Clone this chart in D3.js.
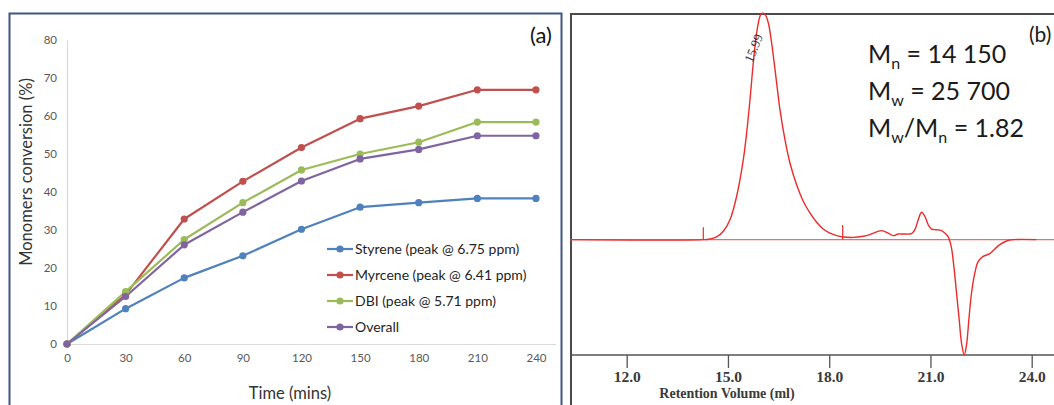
<!DOCTYPE html>
<html><head><meta charset="utf-8">
<script src="https://cdn.jsdelivr.net/npm/d3@7"></script>
<style>body{margin:0;background:#fff}svg{display:block}</style>
</head><body>
<svg id="c" width="1054" height="405"></svg>
<script>
// ---------- Panel (a) data ----------
const times = [0, 30, 60, 90, 120, 150, 180, 210, 240];
const styrene = [0, 9.3, 17.4, 23.2, 30.2, 36.0, 37.2, 38.3, 38.3];
const myrcene = [0, 13.0, 32.9, 42.8, 51.7, 59.3, 62.6, 66.9, 66.9];
const dbi     = [0, 13.8, 27.5, 37.2, 45.8, 50.0, 53.1, 58.4, 58.4];
const overall = [0, 12.5, 26.1, 34.7, 42.9, 48.7, 51.2, 54.8, 54.8];
const seriesNames = ["Styrene (peak @ 6.75 ppm)", "Myrcene (peak @ 6.41 ppm)", "DBI (peak @ 5.71 ppm)", "Overall"];
const seriesColors = ["#4f81bd", "#c0504d", "#9bbb59", "#8064a2"];
const xTicksA = [0, 30, 60, 90, 120, 150, 180, 210, 240];
const yTicksA = [0, 10, 20, 30, 40, 50, 60, 70, 80];

// ---------- Panel (b) data (GPC trace) ----------
const vol = [10.32, 14.30, 14.468, 14.665, 14.863, 15.060, 15.258, 15.455, 15.554, 15.653, 15.751, 15.850, 15.949, 15.998, 16.097, 16.195, 16.294, 16.442, 16.541, 16.689, 16.837, 17.035, 17.232, 17.429, 17.627, 17.824, 18.022, 18.219, 18.417, 18.713, 19.009, 19.206, 19.552, 19.749, 19.897, 20.045, 20.193, 20.440, 20.539, 20.638, 20.736, 20.835, 20.934, 21.033, 21.181, 21.329, 21.427, 21.526, 21.576, 21.625, 21.694, 21.773, 21.852, 21.921, 22.000, 22.069, 22.138, 22.217, 22.316, 22.415, 22.563, 22.760, 22.908, 23.056, 23.254, 23.451, 24.142];
const signal = [0, 0, 0.3, 1.2, 3.7, 8.8, 19.2, 35.4, 47.2, 61.9, 78.2, 91.4, 98.8, 100, 99.6, 95.9, 87.0, 69.3, 57.5, 44.2, 33.9, 24.3, 17.0, 11.8, 7.7, 4.7, 2.9, 1.8, 1.2, 1.0, 1.5, 2.2, 4.0, 2.9, 1.8, 2.5, 2.5, 2.7, 4.4, 8.8, 12.1, 10.3, 6.6, 4.7, 4.4, 4.0, 2.9, 1.2, -0.7, -3.7, -11.8, -23.6, -35.4, -45.7, -51.0, -46.5, -35.4, -23.6, -14.7, -9.6, -7.4, -6.2, -4.1, -2.2, -0.6, 0, 0];
const markerVols = [14.27, 18.40];
const markerHeights = [5.5, 6.5];
const xTicksB = [12, 15, 18, 21, 24];
const peakLabel = "15.99";

const svg = d3.select("#c");
const calibri = "Lato, 'Open Sans', sans-serif";
const serif = "'Liberation Serif', 'DejaVu Serif', serif";

// ================= Panel (a) =================
svg.append("rect").attr("x", 9.5).attr("y", 13.5).attr("width", 552).attr("height", 420)
  .attr("fill", "none").attr("stroke", "#3f5683").attr("stroke-width", 2);

const xA = d3.scaleLinear().domain([0, 250]).range([67, 555.5]);
const yA = d3.scaleLinear().domain([0, 80]).range([344, 40]);

const gx = svg.append("g").attr("transform", "translate(0,344)")
  .call(d3.axisBottom(xA).tickValues(xTicksA).tickSize(0).tickPadding(10).tickFormat(d3.format("d")));
gx.select(".domain").attr("stroke", "#d9d9d9").attr("stroke-width", 1.2);
gx.selectAll("text").attr("font-family", calibri).attr("font-size", 11.5).attr("fill", "#595959");

const gy = svg.append("g").attr("transform", "translate(67,0)")
  .call(d3.axisLeft(yA).tickValues(yTicksA).tickSize(0).tickPadding(10));
gy.select(".domain").attr("stroke", "#d9d9d9").attr("stroke-width", 1.2);
gy.selectAll("text").attr("font-family", calibri).attr("font-size", 11.5).attr("fill", "#595959");

const allSeries = [styrene, myrcene, dbi, overall];
const lineA = d3.line().x((d, i) => xA(times[i])).y(d => yA(d));
allSeries.forEach((s, k) => {
  svg.append("path").datum(s).attr("d", lineA).attr("fill", "none")
    .attr("stroke", seriesColors[k]).attr("stroke-width", 2.2).attr("stroke-linejoin", "round");
});
allSeries.forEach((s, k) => {
  svg.append("g").selectAll("circle").data(s).join("circle")
    .attr("cx", (d, i) => xA(times[i])).attr("cy", d => yA(d)).attr("r", 3.6)
    .attr("fill", seriesColors[k]);
});

// legend
const leg = svg.append("g");
seriesNames.forEach((n, k) => {
  const y = 249 + k * 26;
  leg.append("line").attr("x1", 327).attr("x2", 353).attr("y1", y).attr("y2", y)
    .attr("stroke", seriesColors[k]).attr("stroke-width", 2.2);
  leg.append("circle").attr("cx", 340).attr("cy", y).attr("r", 3.6).attr("fill", seriesColors[k]);
  leg.append("text").attr("x", 355).attr("y", y + 5).text(n)
    .attr("font-family", calibri).attr("font-size", 14).attr("fill", "#1f1f1f");
});

svg.append("text").attr("transform", "translate(32,172) rotate(-90)").attr("text-anchor", "middle")
  .text("Monomers conversion (%)").attr("font-family", calibri).attr("font-size", 16.5).attr("fill", "#333");
svg.append("text").attr("x", 290).attr("y", 399).attr("text-anchor", "middle")
  .text("Time (mins)").attr("font-family", calibri).attr("font-size", 16.5).attr("fill", "#333");
svg.append("text").attr("x", 552).attr("y", 43).attr("text-anchor", "end")
  .text("(a)").attr("font-family", calibri).attr("font-size", 22).attr("fill", "#111");

// ================= Panel (b) =================
const xB = d3.scaleLinear().domain([12, 24]).range([626.7, 1031.7]);
const yB = d3.scaleLinear().domain([-51, 100]).range([355, 13.5]);

svg.append("line").attr("x1", 571).attr("x2", 1054).attr("y1", 14).attr("y2", 14)
  .attr("stroke", "#4a4a4a").attr("stroke-width", 2);
svg.append("line").attr("x1", 571).attr("x2", 571).attr("y1", 13).attr("y2", 405)
  .attr("stroke", "#4a4a4a").attr("stroke-width", 2);

const gxb = svg.append("g").attr("transform", "translate(0,355)")
  .call(d3.axisBottom(xB).tickValues(xTicksB).tickSize(13).tickSizeOuter(0).tickPadding(3).tickFormat(d3.format(".1f")));
gxb.select(".domain").attr("d", "M571,0H1054").attr("stroke", "#555").attr("stroke-width", 1.5);
gxb.selectAll(".tick line").attr("stroke", "#555").attr("stroke-width", 1.3);
gxb.selectAll("text").attr("font-family", serif).attr("font-size", 15.5).attr("font-weight", "bold").attr("fill", "#3a3a3a");
svg.append("text").attr("x", 727).attr("y", 398).attr("text-anchor", "middle")
  .text("Retention Volume (ml)").attr("font-family", serif).attr("font-size", 14)
  .attr("font-weight", "bold").attr("fill", "#3a3a3a");

// baseline
svg.append("line").attr("x1", 570).attr("x2", 1054).attr("y1", yB(0)).attr("y2", yB(0))
  .attr("stroke", "#f26b6b").attr("stroke-width", 1.3);

// trace
const lineB = d3.line().x((d, i) => xB(vol[i])).y(d => yB(d)).curve(d3.curveCatmullRom.alpha(0.5));
svg.append("path").datum(signal).attr("d", lineB).attr("fill", "none")
  .attr("stroke", "#ee2a2a").attr("stroke-width", 1.4);

markerVols.forEach((v, i) => {
  svg.append("line").attr("x1", xB(v)).attr("x2", xB(v)).attr("y1", yB(0)).attr("y2", yB(markerHeights[i]))
    .attr("stroke", "#ee2a2a").attr("stroke-width", 1.2);
});

svg.append("text").attr("transform", `translate(${xB(16.0) - 4},${yB(84)}) rotate(-68)`)
  .attr("text-anchor", "middle").text(peakLabel)
  .attr("font-family", serif).attr("font-size", 13).attr("fill", "#333");

// Mn / Mw text
const tb = svg.append("g").attr("font-family", calibri).attr("fill", "#1a1a1a");
function molText(y, parts) {
  const t = tb.append("text").attr("x", 868).attr("y", y).attr("font-size", 25);
  parts.forEach(p => {
    if (p.sub) t.append("tspan").attr("font-size", 16).attr("dy", 6).text(p.t);
    else t.append("tspan").attr("dy", p.up ? -6 : 0).text(p.t);
  });
}
molText(63, [{t: "M"}, {t: "n", sub: true}, {t: " = 14 150", up: true}]);
molText(100, [{t: "M"}, {t: "w", sub: true}, {t: " = 25 700", up: true}]);
molText(137, [{t: "M"}, {t: "w", sub: true}, {t: "/M", up: true}, {t: "n", sub: true}, {t: " = 1.82", up: true}]);
tb.append("text").attr("x", 1029).attr("y", 42).attr("font-size", 21).text("(b)");
</script>
</body></html>
